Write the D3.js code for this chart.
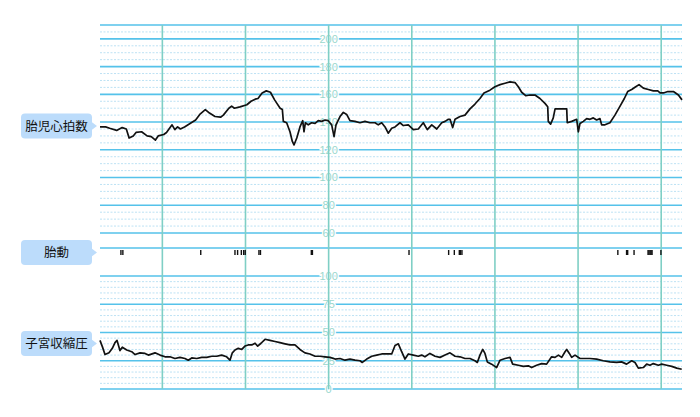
<!DOCTYPE html>
<html>
<head>
<meta charset="utf-8">
<script src="https://cdn.jsdelivr.net/npm/d3@7"></script>
<style>
  body { margin: 0; background: #fff; }
  svg { display: block; font-family: "Liberation Sans", Arial, sans-serif; }
</style>
</head>
<body>
<div id="chart"></div>
<script>
// fetal heart rate trace (seconds, bpm)
const fhrTime = [0, 4, 7, 12, 16, 19, 21, 24, 26, 30, 34, 37, 40, 42, 46, 48, 52, 54, 56, 58, 61, 65, 69, 72, 76, 79, 83, 87, 89, 93, 95, 97, 101, 106, 109, 112, 114, 117, 120, 123, 126, 130, 131.6,
  132.3, 134.7, 137.1, 138.8, 140, 142, 144.3, 146.3, 147.2, 148.2, 150.3, 152.7, 155.2, 157.5, 160, 162.4, 164.7, 167.2, 168.9, 170.3, 173.2, 175.6, 178, 180.4, 184, 187.6, 191.2, 194.8, 198.5,
  200.8, 203.3, 205.7, 208, 210.5, 212.9, 216.5, 218.9, 222.5, 226.1, 229.7, 233.3, 236.2, 239.4, 243, 246.6, 249, 251.4, 252.6, 254.5, 256.2, 259.8, 263.4, 267, 270.6, 274.2, 277.1, 281.4,
  285, 288.7, 292.3, 295.9, 299.5, 301.9, 304.3, 307.2, 310.3, 313.9, 317.5, 321.1, 323.1, 323.5, 325.2, 327.1, 328.4, 332, 336.8, 337.2, 340.4, 344, 345.2, 346.4, 348.8, 351.2, 353.6, 356,
  358.4, 360.8, 362, 364.4, 368, 371.6, 375.3, 378.4, 380.8, 383.7, 386.6, 389, 392.1, 395.7, 399.3, 402.5, 404.2, 406.6, 409.8, 413.8, 417.4, 420];
const fhrBpm = [136.5, 136.5, 135.5, 134, 136, 135, 128.5, 130, 132.5, 133, 130, 129.5, 127, 130, 131, 132.5, 138, 134.5, 136.5, 135, 136.5, 139, 141.5, 145.5, 149, 146.5, 144, 143.5, 145, 150, 151.5, 150, 151, 152.5, 155, 156.5, 157, 161, 162.5, 161.5, 156, 150, 149,
  140.5, 139.5, 133, 126, 123.5, 128.5, 136.5, 141, 133, 139.5, 138, 139.5, 139, 141, 140.5, 141.5, 141, 138, 129.5, 138, 144, 147, 145.5, 141, 140.5, 139.5, 140.5, 139.5, 139.5,
  138, 139.5, 136.5, 132, 135.5, 136.5, 139.5, 137.5, 138, 134.5, 135, 139.5, 134.5, 138, 135, 139.5, 140.5, 142, 142, 136, 142, 144, 145, 149.5, 153, 157, 161, 163,
  165.5, 167, 168, 169, 168.5, 165.5, 161.5, 159, 159.5, 159.5, 157, 153.5, 151, 140.5, 138.5, 143, 149.5, 149.5, 149.5, 139.5, 140.5, 142, 133, 139, 140.5, 142.5, 142, 143,
  141.5, 142.5, 138, 138, 139.5, 145, 151.5, 157, 162, 163.5, 165.5, 167, 164.5, 163.5, 162.5, 162.5, 161, 161, 162, 162, 159.5, 156];

// fetal movement marks (seconds)
const moveTime = [15.1, 16.5, 72.7, 97.4, 99.3, 102, 103.7, 104.8, 114.7, 115.8, 152.5, 153.3, 223, 251.6, 255.7, 259.3, 260.1, 261.2,
  373.7, 380, 380.8, 385.4, 395.5, 396.2, 397, 397.7, 398.4, 404.8];

// uterine contraction pressure (seconds, value)
const ucTime = [0, 1.7, 3.6, 6.5, 8.9, 10.8, 12.3, 14.4, 16.1, 19.3, 22.9, 25.3, 28.9, 32.5, 34.9, 39.7, 43.3, 46.9, 50.5, 54.1, 57.7, 61.3, 63.7, 66.2, 69.8, 73.4, 77, 80.6, 84.2, 87.8,
  91.4, 93.8, 95.5, 97.4, 99.8, 102.3, 104.6, 107, 109.5, 111.9, 113.8, 116.2, 119.1, 122.7, 126.3, 129.9, 133.5, 137.1, 140.7, 144.3, 147.9, 151.5, 155.2, 158.8, 162.4, 166,
  169.6, 173.2, 176.8, 180.4, 184, 187.6, 189.3, 192.5, 196.1, 199.7, 203.3, 206.9, 210.5, 212.9, 215.3, 217.7, 220.1, 222.5, 226.1, 229.7, 232.1, 234.5, 238.1, 241.8, 245.4,
  249, 252.6, 256.2, 259.8, 263.4, 267, 270.6, 272.3, 274.2, 276.2, 277.8, 279.5, 282.6, 285, 286.2, 288.7, 292.3, 295.9, 297.8, 301.9, 305.5, 309.1, 311.5, 315.1, 318.7, 322.3,
  325.9, 328.4, 330.8, 333.2, 335.6, 336.8, 338.7, 340.4, 342.8, 346.4, 350, 353.6, 358.4, 363.2, 368, 372.8, 376.4, 380, 383.7, 386.1, 388.5, 392.1, 394.5, 396.9, 399.3, 402.9,
  405.4, 409, 412.6, 416.2, 419.8];
const ucValue = [43, 37.5, 30.5, 32, 36, 41, 43, 34, 37, 34.5, 33, 30.5, 32, 31.5, 30, 32, 30, 28.5, 28.5, 27, 28, 27, 25.5, 27.5, 27, 28, 28, 29, 29, 30,
  28.5, 25.5, 32, 34.5, 36, 35, 38, 39, 39, 40.5, 38, 40.5, 44, 43, 42, 41, 40, 39, 39, 35, 32, 31, 29, 29, 28.5, 28,
  26.5, 27, 25.5, 26.5, 25.5, 25, 23.5, 26.5, 29, 30, 31, 31, 31, 38.5, 40, 33, 26.5, 31, 30, 29, 30, 28.5, 31.5, 29, 28,
  30, 32, 29, 28.5, 27, 27, 25, 23.5, 30, 35, 31.5, 24, 22, 20, 19, 25.5, 27, 28, 22, 21, 20, 20.5, 19, 21, 22.5, 22,
  28.5, 28, 30, 28, 33, 35, 31.5, 28, 30, 27, 27, 27, 26.5, 25, 24, 23.5, 24, 22, 25, 23.5, 18.5, 19, 22, 21, 22.5, 21,
  22, 21, 20, 18.5, 17.5];

const fhrTicks = [200, 180, 160, 140, 120, 100, 80, 60];
const ucTicks = [100, 75, 50, 25, 0];
const gridSeconds = [45, 105, 165, 225, 285, 345, 405];
const labelSecond = 165;
const panelNames = ["胎児心拍数", "胎動", "子宮収縮圧"];

const W = 700, H = 417;
const left = 100, right = 682;
const fhrTop = 25, fhrBottom = 233, moveY = 248, ucTop = 276, ucBottom = 389;

const svg = d3.select("#chart").append("svg").attr("width", W).attr("height", H);

const x = d3.scaleLinear().domain([0, 420]).range([left, right]);
const yF = d3.scaleLinear().domain([60, 210]).range([fhrBottom, fhrTop]);
const yU = d3.scaleLinear().domain([0, 100]).range([ucBottom, ucTop]);

const solidCol = "#55c2ea", dotCol = "#bde2f4", vCol = "#7fcfc5", labCol = "#9ad7cd";

// dotted minor lines
const fhrMinor = d3.range(65, 210, 5).filter(v => v % 20 !== 0);
const ucMinor = d3.range(5, 100, 5).filter(v => v % 25 !== 0);
const minorY = fhrMinor.map(v => yF(v)).concat(ucMinor.map(v => yU(v)));
svg.append("g").selectAll("line").data(minorY).enter().append("line")
  .attr("x1", left).attr("x2", right)
  .attr("y1", d => d).attr("y2", d => d)
  .style("stroke", dotCol).style("stroke-width", 1).style("stroke-dasharray", "2,1.5");

// solid lines
const majorY = [yF(210)].concat(fhrTicks.map(v => yF(v)), [moveY], ucTicks.map(v => yU(v)));
svg.append("g").selectAll("line").data(majorY).enter().append("line")
  .attr("x1", left).attr("x2", right)
  .attr("y1", d => d).attr("y2", d => d)
  .style("stroke", solidCol).style("stroke-width", 1.6);

// axis labels in the middle of the grid
const labels = fhrTicks.map(v => ({t: v, y: yF(v)})).concat(ucTicks.map(v => ({t: v, y: yU(v)})));
svg.append("g").selectAll("text").data(labels).enter().append("text")
  .attr("x", x(labelSecond)).attr("y", d => d.y).attr("dy", "0.36em")
  .attr("text-anchor", "middle")
  .style("font-size", "11px")
  .style("fill", labCol)
  .style("stroke", "#fff").style("stroke-width", 2.5).style("paint-order", "stroke")
  .text(d => d.t);

// vertical minute lines
svg.append("g").selectAll("line").data(gridSeconds).enter().append("line")
  .attr("x1", d => x(d)).attr("x2", d => x(d))
  .attr("y1", fhrTop).attr("y2", ucBottom)
  .style("stroke", vCol).style("stroke-width", 1.6);

// traces
const fhr = fhrTime.map((t, i) => [t, fhrBpm[i]]);
const uc = ucTime.map((t, i) => [t, ucValue[i]]);

svg.append("path").datum(fhr)
  .attr("d", d3.line().x(d => x(d[0])).y(d => yF(d[1])))
  .style("fill", "none").style("stroke", "#111").style("stroke-width", 1.7).style("stroke-linejoin", "round");

svg.append("path").datum(uc)
  .attr("d", d3.line().x(d => x(d[0])).y(d => yU(d[1])))
  .style("fill", "none").style("stroke", "#111").style("stroke-width", 1.7).style("stroke-linejoin", "round");

svg.append("g").selectAll("line").data(moveTime).enter().append("line")
  .attr("x1", d => x(d)).attr("x2", d => x(d))
  .attr("y1", moveY + 2).attr("y2", moveY + 7)
  .style("stroke", "#111").style("stroke-width", 1.4);

// panel name boxes
const boxY = [126, 252.5, 343.5];
const box = svg.append("g").selectAll("g").data(panelNames).enter().append("g")
  .attr("transform", (d, i) => "translate(21," + boxY[i] + ")");
box.append("rect")
  .attr("x", 0).attr("y", -12.5).attr("width", 71).attr("height", 25).attr("rx", 4)
  .style("fill", "#bcdcfb");
box.append("path")
  .attr("d", "M70,-4.5L76,0L70,4.5Z")
  .style("fill", "#bcdcfb");
box.append("text")
  .attr("x", 35.5).attr("y", 0).attr("dy", "0.36em")
  .attr("text-anchor", "middle")
  .style("font-family", "'Noto Sans CJK JP', sans-serif")
  .style("font-size", "12.5px").style("fill", "#111")
  .text(d => d);
</script>
</body>
</html>
